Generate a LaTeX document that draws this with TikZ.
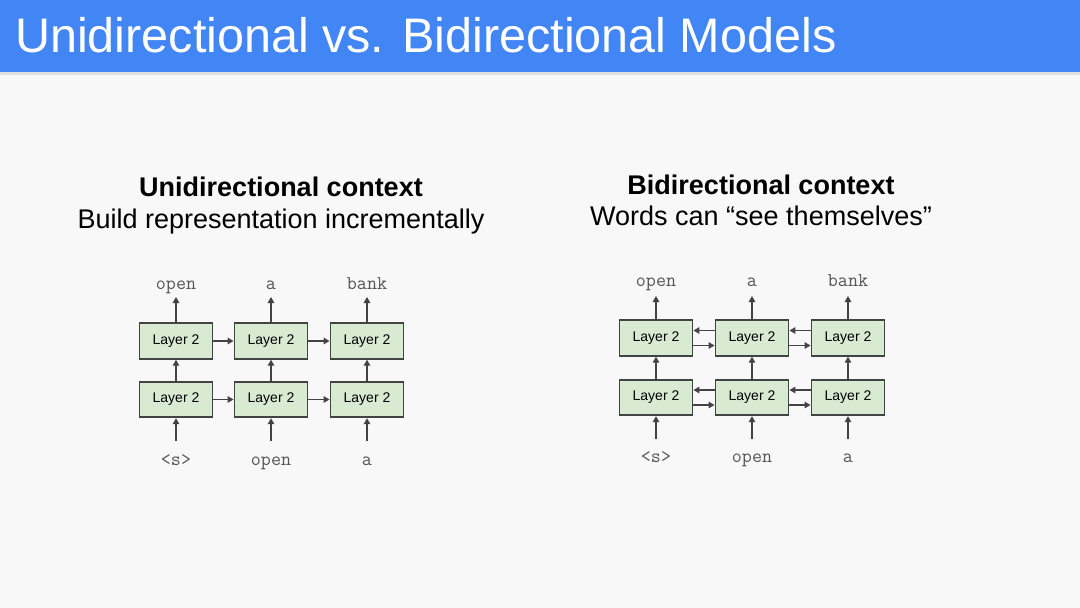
\documentclass[tikz,border=0pt]{standalone}
\usepackage{fontspec}
\setmainfont{Liberation Sans}
\usetikzlibrary{arrows.meta}
\definecolor{hdr}{HTML}{4285F4}
\definecolor{bg}{HTML}{F8F8F8}
\definecolor{boxfill}{HTML}{D9EAD3}
\definecolor{dk}{HTML}{434343}
\definecolor{lbl}{HTML}{555555}
\begin{document}
\begin{tikzpicture}[x=1pt,y=-1pt,
  layerbox/.style={draw=dk,line width=1.9pt,fill=boxfill,minimum width=73pt,minimum height=35.5pt,inner sep=0pt,font=\fontsize{14}{16}\selectfont,text=black},
  wordlbl/.style={font=\ttfamily\fontsize{19.5}{21}\selectfont,text=lbl,inner sep=0pt,anchor=base},
  arr/.style={draw=dk,line width=1.6pt,-{Triangle[length=6pt,width=6.5pt]}},
  heading/.style={font=\bfseries\fontsize{27}{30}\selectfont,anchor=base,inner sep=0pt},
  sub/.style={font=\fontsize{27}{30}\selectfont,anchor=base,inner sep=0pt}]
\useasboundingbox (0,0) rectangle (1080,608);
\fill[bg] (0,0) rectangle (1080,608);
\fill[black!12] (0,72) rectangle (1080,75);
\fill[hdr] (0,0) rectangle (1080,72);
\node[anchor=base west,inner sep=0pt,text=white,font=\fontsize{48.5}{52}\selectfont] (title) at (15,52) {Unidirectional vs. Bidirectional Models};

% Left
\node[heading] (lh) at (281,196) {Unidirectional context};
\node[sub] (ls) at (281,228) {Build representation incrementally};
\foreach \c/\x in {1/176,2/271,3/367}{
  \node[layerbox] (L2\c) at (\x,341) {Layer 2};
  \node[layerbox] (L1\c) at (\x,399.5) {Layer 2};
  \coordinate (Lt\c) at (\x,297);
  \coordinate (Lb\c) at (\x,441);
  \draw[arr] (L1\c) -- (L2\c);
  \draw[arr] (L2\c) -- (Lt\c);
  \draw[arr] (Lb\c) -- (L1\c);
}
\node[wordlbl] (lo1) at (176,289) {open};
\node[wordlbl] (lo2) at (271,289) {a};
\node[wordlbl] (lo3) at (367,289) {bank};
\node[wordlbl] (li1) at (176,465) {<s>};
\node[wordlbl] (li2) at (271,465) {open};
\node[wordlbl] (li3) at (367,465) {a};
\draw[arr] (L21) -- (L22);
\draw[arr] (L22) -- (L23);
\draw[arr] (L11) -- (L12);
\draw[arr] (L12) -- (L13);

% Right
\node[heading] (rh) at (761,194) {Bidirectional context};
\node[sub] (rs) at (761,225) {Words can “see themselves”};
\foreach \c/\x in {1/656,2/752,3/848}{
  \node[layerbox] (R2\c) at (\x,338) {Layer 2};
  \node[layerbox] (R1\c) at (\x,397.5) {Layer 2};
  \coordinate (Rt\c) at (\x,296);
  \coordinate (Rb\c) at (\x,439);
  \draw[arr] (R1\c) -- (R2\c);
  \draw[arr] (R2\c) -- (Rt\c);
  \draw[arr] (Rb\c) -- (R1\c);
}
\node[wordlbl] (ro1) at (656,286) {open};
\node[wordlbl] (ro2) at (752,286) {a};
\node[wordlbl] (ro3) at (848,286) {bank};
\node[wordlbl] (ri1) at (656,462) {<s>};
\node[wordlbl] (ri2) at (752,462) {open};
\node[wordlbl] (ri3) at (848,462) {a};
\foreach \r in {1,2}{
  \draw[arr] ([yshift=7.5pt]R\r2.west) -- ([yshift=7.5pt]R\r1.east);
  \draw[arr] ([yshift=-7.5pt]R\r1.east) -- ([yshift=-7.5pt]R\r2.west);
  \draw[arr] ([yshift=7.5pt]R\r3.west) -- ([yshift=7.5pt]R\r2.east);
  \draw[arr] ([yshift=-7.5pt]R\r2.east) -- ([yshift=-7.5pt]R\r3.west);
}
\end{tikzpicture}
\end{document}
